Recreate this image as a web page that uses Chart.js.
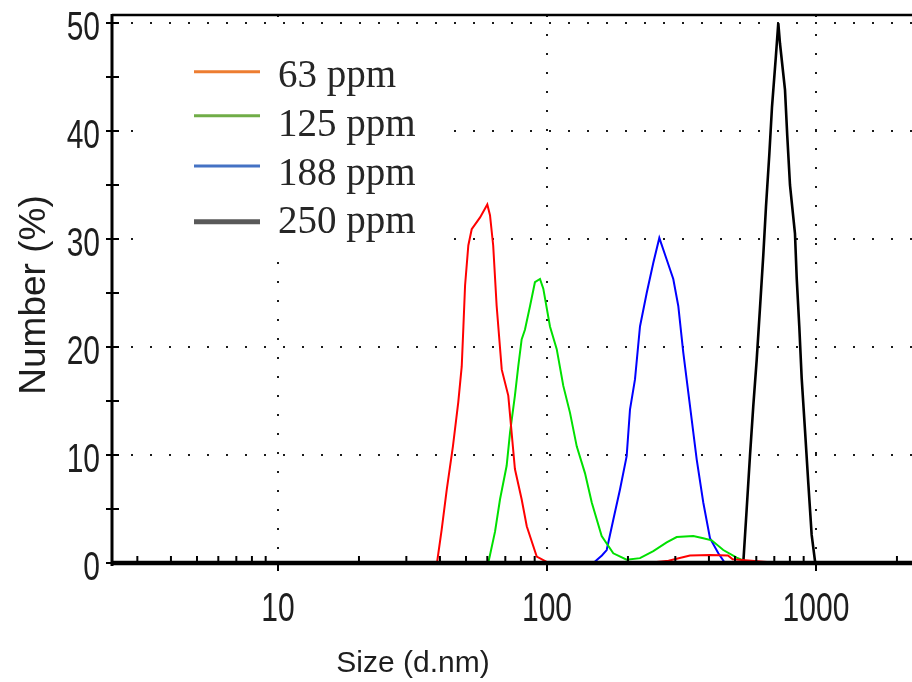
<!DOCTYPE html>
<html>
<head>
<meta charset="utf-8">
<script src="https://cdn.jsdelivr.net/npm/chart.js@4.4.1/dist/chart.umd.min.js"></script>
<style>
  html, body { margin: 0; padding: 0; background: #fff; }
  canvas { display: block; }
</style>
</head>
<body>
<canvas id="sizeChart" width="912" height="682"></canvas>
<script>
// size class (d.nm) vs number (%)
const size63 = [39.0, 40.6, 42.4, 44.7, 46.8, 48.2, 48.9, 49.6, 51.0, 52.5, 56.4, 60.0, 61.4, 63.1, 65.0, 67.9, 71.8, 76.0, 80.5, 84.1, 91.6, 99.7, 102, 245, 283, 340, 404, 471, 490, 657, 700];
const num63 = [0, 3.1, 6.8, 10.8, 14.9, 18.2, 21.9, 25.7, 29.4, 30.9, 32.0, 33.2, 32.2, 29.4, 23.8, 17.9, 15.5, 8.7, 5.9, 3.4, 0.6, 0.1, 0, 0.05, 0.2, 0.7, 0.75, 0.7, 0.35, 0.1, 0];

const size125 = [60.5, 64.1, 66.9, 70.8, 72.9, 76.0, 78.2, 80.5, 82.8, 86.5, 90.2, 94.2, 96.9, 102.6, 108.7, 115.0, 121.8, 129.0, 138.5, 146.7, 159.7, 176.4, 197.8, 221.7, 248.5, 278.6, 303.5, 349.9, 381.1, 409.6, 452.3, 507.3, 552.6, 598.4];
const num125 = [0, 2.9, 5.9, 9.0, 12.1, 15.5, 18.2, 20.7, 21.6, 23.8, 26.0, 26.3, 25.4, 21.9, 19.8, 16.4, 13.9, 10.8, 8.3, 5.6, 2.5, 0.9, 0.3, 0.45, 1.1, 1.9, 2.4, 2.5, 2.3, 2.1, 1.2, 0.5, 0.1, 0];

const size188 = [148.7, 160.0, 166.7, 176.4, 186.8, 197.8, 203.5, 212.4, 221.7, 234.8, 248.5, 261.6, 278.6, 294.8, 307.7, 321.1, 340.3, 349.9, 360.2, 381.1, 403.6, 433.5, 459.0];
const num188 = [0, 0.7, 1.2, 4.0, 6.8, 9.9, 14.2, 17.0, 21.9, 25.0, 27.8, 30.1, 28.1, 26.3, 23.8, 19.5, 14.5, 12.1, 9.6, 5.6, 2.3, 0.9, 0];

const size250 = [536.7, 552.6, 568.3, 584.6, 602.0, 619.2, 637.0, 651.9, 670.6, 686.2, 708.4, 724.3, 734.9, 767.1, 782.3, 800.5, 835.5, 847.9, 866.9, 884.9, 910.3, 936.4, 963.8, 991.5, 1000];
const num250 = [0, 5.0, 9.9, 14.5, 18.8, 23.6, 28.5, 33.0, 37.8, 42.2, 46.7, 50.0, 48.1, 43.8, 39.5, 35.0, 30.5, 26.4, 21.9, 17.1, 12.3, 7.4, 2.6, 0.2, 0];

const seriesLabels = ['63 ppm', '125 ppm', '188 ppm', '250 ppm'];
const xTickLabels = [10, 100, 1000];
const yTickLabels = [0, 10, 20, 30, 40, 50];

const lineColors = ['#ff0000', '#00e000', '#0000ff', '#000000'];
const legendColors = ['#ED7D31', '#70AD47', '#4472C4', '#595959'];

const sizes = [size63, size125, size188, size250];
const numbers = [num63, num125, num188, num250];

const toPoints = (xs, ys) => xs.map((x, i) => ({ x: x, y: ys[i] }));

const datasets = seriesLabels.map((label, i) => ({
    label: label,
    data: toPoints(sizes[i], numbers[i]),
    borderColor: lineColors[i],
    borderWidth: i === 3 ? 2.6 : 2,
    pointRadius: 0,
    tension: 0,
    fill: false
}));

const TEXT = '#1e1e1e';
const STRETCH = 1.33;   // tick digits in the original are tall and narrow

function line(ctx, x1, y1, x2, y2) {
    ctx.beginPath();
    ctx.moveTo(x1, y1);
    ctx.lineTo(x2, y2);
    ctx.stroke();
}

// white box of the pasted legend hides the grid behind it
const legendBoxPlugin = {
    id: 'legendBox',
    beforeDatasetsDraw(chart) {
        const { ctx } = chart;
        ctx.save();
        ctx.fillStyle = '#fff';
        ctx.fillRect(136, 32, 302, 218);
        ctx.restore();
    }
};

// axis frame + tick marks, drawn over the series so zero runs sit on the axis
const framePlugin = {
    id: 'frame',
    afterDatasetsDraw(chart) {
        const { ctx, chartArea: a, scales: { x, y } } = chart;
        ctx.save();
        ctx.strokeStyle = '#000';
        ctx.lineWidth = 2.5;
        line(ctx, a.left, a.top, a.right, a.top);
        ctx.lineWidth = 3;
        line(ctx, a.left, a.top - 1, a.left, a.bottom + 3);
        ctx.lineWidth = 4.5;
        line(ctx, a.left - 1, a.bottom, a.right, a.bottom);

        ctx.lineWidth = 2;
        for (let v = 0; v <= 50; v += 5) {
            const py = y.getPixelForValue(v);
            line(ctx, a.left - 6, py, a.left + 7, py);
        }
        for (let e = 0; e <= 3; e++) {
            for (let m = 1; m <= 9; m++) {
                const v = m * Math.pow(10, e);
                if (v < x.min || v > x.max) continue;
                const px = x.getPixelForValue(v);
                if (m === 1) line(ctx, px, a.bottom, px, a.bottom + 8);
                else line(ctx, px, a.bottom - 7, px, a.bottom);
            }
        }
        ctx.restore();
    },
    afterDraw(chart) {
        const { ctx, chartArea: a, scales: { x, y } } = chart;
        ctx.save();
        ctx.fillStyle = TEXT;

        // tick labels
        ctx.font = '30px "Liberation Sans", Arial, sans-serif';
        ctx.textBaseline = 'alphabetic';
        ctx.textAlign = 'right';
        yTickLabels.forEach(v => {
            const py = y.getPixelForValue(v);
            ctx.save();
            ctx.translate(a.left - 12, py + 17);
            ctx.scale(1, STRETCH);
            ctx.fillText(String(v), 0, 0);
            ctx.restore();
        });
        ctx.textAlign = 'center';
        xTickLabels.forEach(v => {
            const px = x.getPixelForValue(v);
            ctx.save();
            ctx.translate(px, a.bottom + 58);
            ctx.scale(1, STRETCH);
            ctx.fillText(String(v), 0, 0);
            ctx.restore();
        });

        // axis titles
        ctx.font = '30px "Liberation Sans", Arial, sans-serif';
        ctx.fillText('Size (d.nm)', 413, 672);
        ctx.save();
        ctx.font = '37px "Liberation Sans", Arial, sans-serif';
        ctx.translate(45, 295);
        ctx.rotate(-Math.PI / 2);
        ctx.fillText('Number (%)', 0, 0);
        ctx.restore();

        // legend
        const lineY = [71.7, 115.7, 166, 221.7];
        const baseY = [86.7, 136, 185, 233.3];
        ctx.textAlign = 'left';
        ctx.font = '39px "Liberation Serif", "Times New Roman", serif';
        ctx.fillStyle = '#262626';
        seriesLabels.forEach((label, i) => {
            ctx.strokeStyle = legendColors[i];
            ctx.lineWidth = i === 3 ? 5 : 3;
            line(ctx, 194, lineY[i], 260, lineY[i]);
            ctx.fillText(label, 278, baseY[i]);
        });
        ctx.restore();
    }
};

const ctx = document.getElementById('sizeChart').getContext('2d');
const sizeChart = new Chart(ctx, {
    type: 'line',
    data: { datasets: datasets },
    options: {
        responsive: false,
        animation: false,
        devicePixelRatio: 1,
        layout: { padding: { left: 112, right: 0, top: 15, bottom: 119 } },
        plugins: { legend: { display: false }, tooltip: { enabled: false } },
        scales: {
            x: {
                type: 'logarithmic',
                min: 2.415,
                max: 2275,
                afterBuildTicks: s => { s.ticks = xTickLabels.map(v => ({ value: v })); },
                ticks: { display: false },
                grid: { color: '#1a1a1a', lineWidth: 2, drawTicks: false },
                border: { display: false, dash: [2, 17] }
            },
            y: {
                min: 0,
                max: 50.74,
                afterBuildTicks: s => { s.ticks = yTickLabels.filter(v => v > 0).map(v => ({ value: v })); },
                ticks: { display: false },
                grid: { color: '#1a1a1a', lineWidth: 2, drawTicks: false },
                border: { display: false, dash: [2, 17] }
            }
        }
    },
    plugins: [legendBoxPlugin, framePlugin]
});
</script>
</body>
</html>
